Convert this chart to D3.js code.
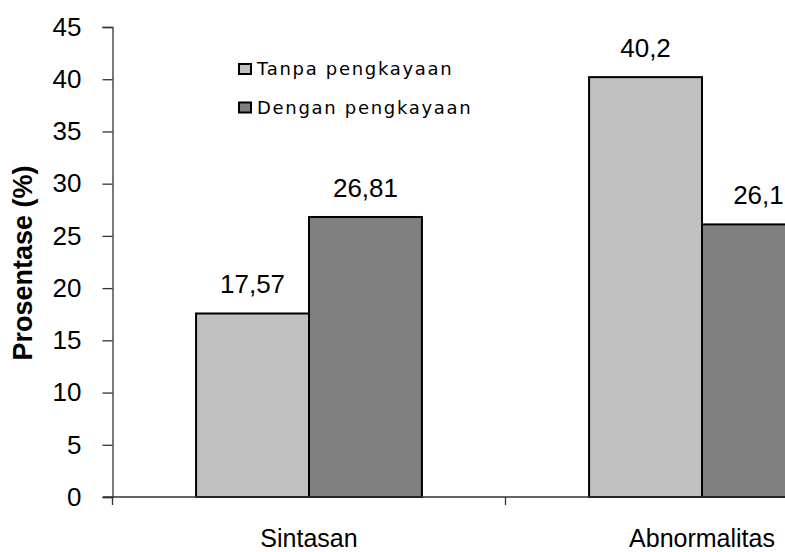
<!DOCTYPE html>
<html>
<head>
<meta charset="utf-8">
<script src="https://cdn.jsdelivr.net/npm/d3@7"></script>
<style>
  body { margin: 0; background: #fff; }
  text { font-family: "Liberation Sans", Arial, sans-serif; }
</style>
</head>
<body>
<div id="chart"></div>
<script>
// data
var categories = ["Sintasan", "Abnormalitas"];
var seriesNames = ["Tanpa pengkayaan", "Dengan pengkayaan"];
var tanpa = [17.57, 40.2];
var dengan = [26.81, 26.1];
var valueLabels = [["17,57", "26,81"], ["40,2", "26,1"]];
var yTicks = [0, 5, 10, 15, 20, 25, 30, 35, 40, 45];
var colors = ["#c0c0c0", "#808080"];

var width = 785, height = 552;

var svg = d3.select("#chart")
    .append("svg")
    .attr("width", width)
    .attr("height", height);

// scales
var x0 = d3.scaleBand()
    .domain(categories)
    .range([112.5, 898.5]);

var x1 = d3.scaleBand()
    .domain(seriesNames)
    .range([0, x0.bandwidth()])
    .paddingOuter(0.74);

var y = d3.scaleLinear()
    .domain([0, 45])
    .range([497, 27]);

// y axis
var yAxis = svg.append("g")
    .attr("transform", "translate(112.5,0)")
    .call(d3.axisLeft(y).tickValues(yTicks).tickSize(10).tickPadding(21));
yAxis.selectAll("line, path").attr("stroke", "#333").attr("stroke-width", 1.3);
yAxis.selectAll("text").attr("fill", "#000")
    .style("font-size", "26px")
    .style("font-family", "Liberation Sans, Arial, sans-serif");

// bars
var rows = categories.map(function (c, i) {
    return { cat: c, vals: [tanpa[i], dengan[i]], labels: valueLabels[i] };
});

var groups = svg.append("g").selectAll("g")
    .data(rows)
    .enter().append("g")
    .attr("transform", function (d) { return "translate(" + x0(d.cat) + ",0)"; });

groups.selectAll("rect")
    .data(function (d) { return d.vals.map(function (v, j) { return { s: seriesNames[j], v: v, j: j }; }); })
    .enter().append("rect")
    .attr("x", function (d) { return x1(d.s); })
    .attr("y", function (d) { return y(d.v); })
    .attr("width", x1.bandwidth())
    .attr("height", function (d) { return y(0) - y(d.v); })
    .attr("fill", function (d) { return colors[d.j]; })
    .attr("stroke", "#000")
    .attr("stroke-width", 2);

groups.selectAll("text.val")
    .data(function (d) { return d.vals.map(function (v, j) { return { s: seriesNames[j], v: v, t: d.labels[j] }; }); })
    .enter().append("text")
    .attr("class", "val")
    .attr("x", function (d) { return x1(d.s) + x1.bandwidth() / 2; })
    .attr("y", function (d) { return y(d.v) - 20; })
    .attr("text-anchor", "middle")
    .style("font-size", "26px")
    .text(function (d) { return d.t; });

// x axis
var xAxis = svg.append("g")
    .attr("transform", "translate(0,497)");
xAxis.append("line")
    .attr("x1", 103).attr("x2", width)
    .attr("stroke", "#333").attr("stroke-width", 1.3);
xAxis.selectAll("line.tick")
    .data([x0.range()[0], x0("Abnormalitas")])
    .enter().append("line")
    .attr("x1", function (d) { return d; })
    .attr("x2", function (d) { return d; })
    .attr("y1", 0).attr("y2", 8)
    .attr("stroke", "#333").attr("stroke-width", 1.3);
xAxis.selectAll("text")
    .data(categories)
    .enter().append("text")
    .attr("x", function (d) { return x0(d) + x0.bandwidth() / 2; })
    .attr("y", 50)
    .attr("text-anchor", "middle")
    .style("font-size", "25px")
    .text(function (d) { return d; });

// y title
svg.append("text")
    .attr("transform", "translate(32,263)rotate(-90)")
    .attr("text-anchor", "middle")
    .style("font-size", "27px")
    .attr("font-weight", "bold")
    .text("Prosentase (%)");

// legend
var legend = svg.append("g").attr("transform", "translate(239,64)");
var li = legend.selectAll("g")
    .data(seriesNames)
    .enter().append("g")
    .attr("transform", function (d, i) { return "translate(0," + (i * 38.5) + ")"; });
li.append("rect")
    .attr("width", 12).attr("height", 10)
    .attr("fill", function (d, i) { return colors[i]; })
    .attr("stroke", "#000").attr("stroke-width", 2);
li.append("text")
    .attr("x", 18).attr("y", 11)
    .style("font-size", "18px")
    .style("font-family", "DejaVu Sans, sans-serif")
    .attr("letter-spacing", "1.7px")
    .text(function (d) { return d; });
</script>
</body>
</html>
